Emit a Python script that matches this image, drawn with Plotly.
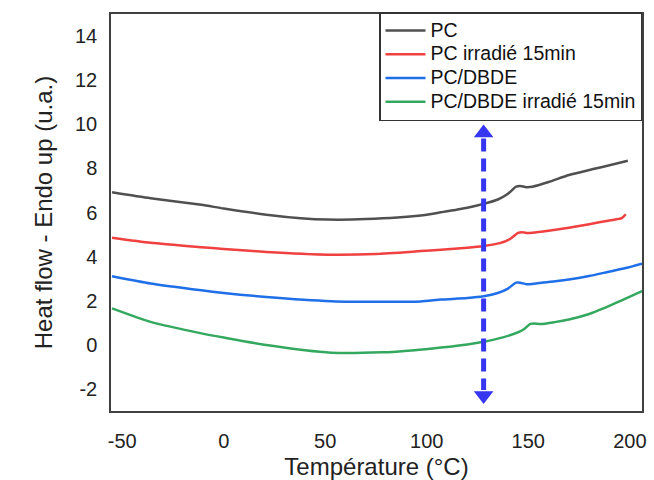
import plotly.graph_objects as go

# ---- data ----
series_names = ["PC", "PC irradié 15min", "PC/DBDE", "PC/DBDE irradié 15min"]
series_colors = ["#505050", "#f04040", "#1f6fe8", "#35a860"]

pc_T = [-55, -36, -11, 0, 21, 38, 51, 70, 97, 107, 120, 128, 135, 140, 144, 146, 149, 152, 160, 170, 182, 190, 199]
pc_v = [6.92, 6.65, 6.35, 6.18, 5.90, 5.74, 5.68, 5.70, 5.86, 6.01, 6.22, 6.39, 6.59, 6.85, 7.17, 7.20, 7.15, 7.17, 7.38, 7.70, 7.97, 8.14, 8.35]

pci_T = [-55, -36, -11, 0, 21, 51, 75, 97, 107, 120, 128, 136, 141, 145, 147, 149, 152, 160, 170, 180, 190, 196, 198]
pci_v = [4.86, 4.63, 4.43, 4.35, 4.21, 4.09, 4.12, 4.25, 4.31, 4.40, 4.48, 4.61, 4.80, 5.08, 5.11, 5.07, 5.08, 5.17, 5.31, 5.47, 5.64, 5.74, 5.92]

dbde_T = [-55, -36, -11, 0, 21, 53, 78, 97, 107, 120, 128, 135, 140, 144, 146, 149, 152, 160, 170, 180, 189, 198, 206]
dbde_v = [3.11, 2.78, 2.47, 2.35, 2.17, 1.98, 1.95, 1.97, 2.05, 2.12, 2.20, 2.35, 2.55, 2.82, 2.82, 2.75, 2.76, 2.85, 2.96, 3.12, 3.30, 3.48, 3.68]

dbdei_T = [-55, -36, -11, 0, 21, 53, 78, 94, 107, 120, 128, 138, 145, 148, 151, 153, 156, 163, 170, 180, 187, 196, 206]
dbdei_v = [1.65, 1.04, 0.52, 0.33, -0.01, -0.36, -0.34, -0.24, -0.12, 0.02, 0.14, 0.35, 0.57, 0.72, 0.95, 0.97, 0.94, 1.03, 1.15, 1.40, 1.65, 2.02, 2.44]

x_ticks = [-50, 0, 50, 100, 150, 200]
x_ticklabels = ["-50", "0", "50", "100", "150", "200"]
y_ticks = [-2, 0, 2, 4, 6, 8, 10, 12, 14]
y_ticklabels = ["-2", "0", "2", "4", "6", "8", "10", "12", "14"]

# double arrow marking Tg
arrow_T = 128
arrow_top = 9.6
arrow_bottom = -2.3

series = [(pc_T, pc_v), (pci_T, pci_v), (dbde_T, dbde_v), (dbdei_T, dbdei_v)]

fig = go.Figure()
for (T, v), name, col in zip(series, series_names, series_colors):
    fig.add_trace(go.Scatter(x=T, y=v, mode="lines",
                             name='<span style="font-size:19.5px">' + name + '</span>',
                             line=dict(color=col, width=2.5, shape="spline", smoothing=0.6)))

arrow_col = "#3535f2"
fig.add_trace(go.Scatter(x=[arrow_T, arrow_T], y=[arrow_top - 0.25, arrow_bottom + 0.25], mode="lines",
                         line=dict(color=arrow_col, width=5, dash="13px,7px"),
                         showlegend=False, hoverinfo="skip"))
fig.add_trace(go.Scatter(x=[arrow_T, arrow_T], y=[arrow_top, arrow_bottom], mode="markers",
                         marker=dict(symbol=["triangle-up", "triangle-down"], size=17, color=arrow_col,
                                     line=dict(width=0)),
                         showlegend=False, hoverinfo="skip"))

font_family = "Liberation Sans, Arial, sans-serif"
axis_common = dict(showgrid=False, zeroline=False, showline=True, mirror=True,
                   linecolor="#404040", linewidth=1.5, ticks="", automargin=False,
                   tickfont=dict(family=font_family, size=20, color="#222"))

fig.update_layout(
    width=654, height=480,
    margin=dict(l=111, r=12, t=14, b=69),
    paper_bgcolor="white", plot_bgcolor="white",
    font=dict(family=font_family, color="#222"),
    xaxis=dict(range=[-55.5, 206], tickvals=x_ticks, ticktext=x_ticklabels, ticklabelstandoff=11,
               title=dict(text="Température (°C)", font=dict(size=24, family=font_family, color="#222"),
                          standoff=12),
               **axis_common),
    yaxis=dict(range=[-3, 15], tickvals=y_ticks, ticktext=y_ticklabels, ticklabelstandoff=8,
               title=dict(text="Heat flow - Endo up (u.a.)", font=dict(size=24, family=font_family, color="#222"),
                          standoff=16),
               **axis_common),
    legend=dict(x=1.0, y=1.005, xanchor="right", yanchor="top",
                bgcolor="white", bordercolor="#333", borderwidth=1.5,
                font=dict(family=font_family, size=16, color="#111"),
                tracegroupgap=0, itemwidth=40),
    showlegend=True,
)

fig.write_html("out.html")
